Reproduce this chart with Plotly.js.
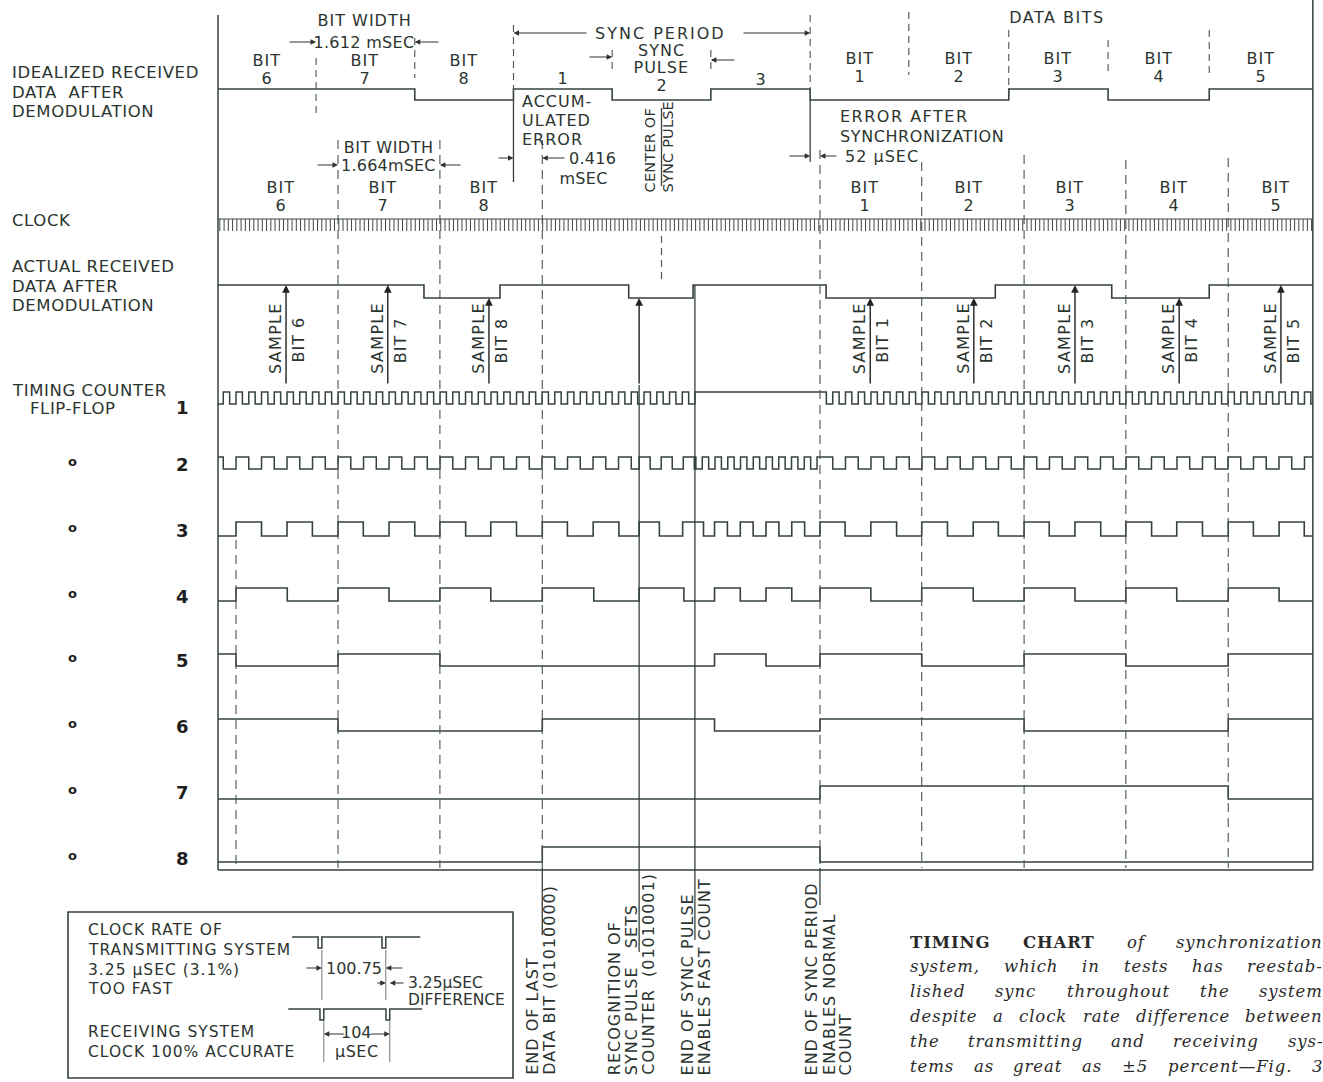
<!DOCTYPE html>
<html><head><meta charset="utf-8">
<script src="https://cdn.plot.ly/plotly-3.0.1.min.js"></script>
<style>html,body{margin:0;padding:0;background:#fff;}#chart{width:1323px;height:1082px;}</style>
</head><body><div id="chart"></div>
<script>
// ================= DATA (time in ms from the left edge of the chart) =================
const chartEnd = 17.86;
// transmitter (idealized) bit boundaries, 1.612 ms apart
const txBitBoundaries = [1.60, 3.21, 4.82, 6.43, 8.04, 9.66, 11.27, 12.90, 14.52, 16.17];
const txBitLabels = [['BIT','6'],['BIT','7'],['BIT','8'],['1'],['SYNC','PULSE','2'],['3'],
                     ['BIT','1'],['BIT','2'],['BIT','3'],['BIT','4'],['BIT','5']];
// receiver bit boundaries, 1.664 ms apart
const rxBitBoundaries = [0.294, 1.958, 3.62, 5.29, 9.82, 11.48, 13.15, 14.81, 16.48];
// idealized received data: initial level + toggle times
const idealInit = 1;
const idealToggles = [3.21, 4.82, 6.43, 8.04, 9.66, 12.90, 14.52, 16.17];
// actual received data
const actualInit = 1;
const actualToggles = [3.36, 4.60, 6.70, 7.75, 9.92, 12.68, 14.58, 16.17];
// sampling instants
const sampleTimes = [1.11, 2.77, 4.42, 6.87, 10.64, 12.33, 13.98, 15.68, 17.34];
const sampleLabels = ['BIT 6','BIT 7','BIT 8','','BIT 1','BIT 2','BIT 3','BIT 4','BIT 5'];
// events
const endLastDataBit = 5.29, syncRecognition = 6.87, syncPulseEnd = 7.78, syncPeriodEnd = 9.82;
// clock comb
const clockPhase = 0.03, clockPeriod = 0.0693;
// timing counter flip-flops: periodic segments {from,to,phase,period} or constant {from,to,level}
const ff1Segments = [
  {from:0, to:7.78, phase:0.294, period:0.208},
  {from:7.78, to:9.82, level:1},
  {from:9.82, to:chartEnd, phase:9.82, period:0.208}
];
const ff2Segments = [
  {from:0, to:6.87, phase:0.294, period:0.416},
  {from:6.87, to:7.78, phase:6.87, period:0.36},
  {from:7.78, to:9.82, phase:7.90, period:0.208},
  {from:9.82, to:chartEnd, phase:9.82, period:0.416}
];
const ff3Init = 0;
const ff3Toggles = [0.294,0.71,1.126,1.54,1.958,2.37,2.79,3.21,3.62,4.04,4.45,4.87,5.29,5.70,6.12,6.54,
  6.87,7.20,7.58,7.92,8.10,8.31,8.52,8.73,8.94,9.15,9.36,9.57,9.82,10.23,10.65,11.07,11.48,11.90,
  12.32,12.73,13.15,13.56,13.98,14.40,14.81,15.23,15.64,16.06,16.48,16.89,17.31,17.72];
const ff4Init = 0;
const ff4Toggles = [0.294,1.13,1.958,2.79,3.62,4.45,5.29,6.13,6.87,7.60,8.10,8.52,8.94,9.36,9.82,
  10.65,11.48,12.32,13.15,13.98,14.81,15.64,16.48,17.31];
const ff5Init = 1, ff5Toggles = [0.294,1.958,3.62,8.10,8.94,9.82,11.48,13.15,14.81,16.48];
const ff6Init = 1, ff6Toggles = [1.958,5.29,8.10,9.82,13.15,16.48];
const ff7Init = 0, ff7Toggles = [9.82,16.48];
const ff8Init = 0, ff8Toggles = [5.29,9.82];
// inset clocks (microseconds)
const txClockDips = [-3, 97.75];   // 100.75 us apart
const rxClockDips = [0, 104];      // 104 us apart
const clockDipWidth = 6;
// caption
const captionLines = [
  [['TIMING',1],['CHART',1],['of',0],['synchronization',0]],
  [['system,',0],['which',0],['in',0],['tests',0],['has',0],['reestab-',0]],
  [['lished',0],['sync',0],['throughout',0],['the',0],['system',0]],
  [['despite',0],['a',0],['clock',0],['rate',0],['difference',0],['between',0]],
  [['the',0],['transmitting',0],['and',0],['receiving',0],['sys-',0]],
  [['tems',0],['as',0],['great',0],['as',0],['\u00b15',0],['percent\u2014Fig.',0],['3',0]]
];

// ================= LAYOUT HELPERS =================
const W = 1323, H = 1082;
const PX0 = 218, PXPERMS = 61.3;
const X = px => (px - PX0) / PXPERMS;           // page pixel -> time axis
const INK = '#2c3430', LINE = '#34413c', DASH = '#4a524e';
const F = "'DejaVu Sans', 'Liberation Sans', sans-serif";
const rows = {
  ideal:{hi:89,lo:100}, actual:{hi:285,lo:298},
  ff1:{hi:392,lo:404}, ff2:{hi:457,lo:469}, ff3:{hi:522,lo:536}, ff4:{hi:588,lo:601},
  ff5:{hi:654,lo:666}, ff6:{hi:719,lo:731}, ff7:{hi:786,lo:799}, ff8:{hi:847,lo:862}
};
const lev = (v,row) => v ? row.hi : row.lo;
function levelAt(init, toggles, t){ let v=init; for(const x of toggles){ if(x<=t) v=1-v; } return v; }

const traces = [];
function stepTrace(init, toggles, row){
  const xs=[0], ys=[lev(init,row)]; let v=init;
  for(const t of toggles){ v=1-v; xs.push(t); ys.push(lev(v,row)); }
  xs.push(chartEnd); ys.push(lev(v,row));
  return {type:'scatter',mode:'lines',x:xs,y:ys,line:{shape:'hv',color:LINE,width:1.6},hoverinfo:'skip'};
}
function segTrace(segs,row){
  const xs=[], ys=[];
  for(const s of segs){
    if('level' in s){ xs.push(s.from); ys.push(lev(s.level,row)); continue; }
    const half=s.period/2;
    const lv = t => { const m=(((t-s.phase)%s.period)+s.period)%s.period; return m < half ? 1 : 0; };
    xs.push(s.from); ys.push(lev(lv(s.from+1e-6),row));
    let k=Math.ceil((s.from-s.phase)/half+1e-9);
    for(;;k++){ const e=s.phase+k*half; if(e>=s.to-1e-9) break; xs.push(e); ys.push(lev(lv(e+1e-6),row)); }
  }
  xs.push(chartEnd); ys.push(ys[ys.length-1]);
  return {type:'scatter',mode:'lines',x:xs,y:ys,line:{shape:'hv',color:LINE,width:1.5},hoverinfo:'skip'};
}
function lineTrace(segs, color, width, dash){
  const xs=[], ys=[];
  for(const [t,y0,y1] of segs){ xs.push(t,t,null); ys.push(y0,y1,null); }
  return {type:'scatter',mode:'lines',x:xs,y:ys,line:{color,width,dash:dash||'solid'},hoverinfo:'skip'};
}

// ---- waveforms
traces.push(stepTrace(idealInit, idealToggles, rows.ideal));
traces.push(stepTrace(actualInit, actualToggles, rows.actual));
traces.push(segTrace(ff1Segments, rows.ff1));
traces.push(segTrace(ff2Segments, rows.ff2));
traces.push(stepTrace(ff3Init, ff3Toggles, rows.ff3));
traces.push(stepTrace(ff4Init, ff4Toggles, rows.ff4));
traces.push(stepTrace(ff5Init, ff5Toggles, rows.ff5));
traces.push(stepTrace(ff6Init, ff6Toggles, rows.ff6));
traces.push(stepTrace(ff7Init, ff7Toggles, rows.ff7));
traces.push(stepTrace(ff8Init, ff8Toggles, rows.ff8));

// ---- clock comb
(function(){
  const xs=[0,chartEnd,null], ys=[219,219,null];
  for(let t=clockPhase; t<chartEnd; t+=clockPeriod){ xs.push(t,t,null); ys.push(219,231,null); }
  traces.push({type:'scatter',mode:'lines',x:xs,y:ys,line:{color:'#3f4743',width:1},hoverinfo:'skip'});
})();

// ---- frame
traces.push({type:'scatter',mode:'lines',x:[0,0,null,chartEnd,chartEnd,null,0,chartEnd],
  y:[15,870,null,0,870,null,870,870],line:{color:LINE,width:1.5},hoverinfo:'skip'});

// ---- dashed receiver-bit markers
const rxTops = [540,140,140,140,150,162,155,160,158];
traces.push(lineTrace(rxBitBoundaries.map((t,i)=>[t,rxTops[i],868]), DASH, 1.1, '9px,6px'));
// ---- dashed transmitter-bit markers (top)
const txMarkExt = [[58,118],[38,78],[25,100],[50,72],[50,72],[15,100],[12,75],[30,95],[40,75],[30,75]];
traces.push(lineTrace(txBitBoundaries.map((t,i)=>[t,txMarkExt[i][0],txMarkExt[i][1]]), DASH, 1.1, '7px,5px'));
// centre of transmitted sync pulse
const txSyncCenter = (txBitBoundaries[3]+txBitBoundaries[4])/2;
traces.push(lineTrace([[txSyncCenter,236,283]], DASH, 1.1, '7px,5px'));
// ---- solid markers
traces.push(lineTrace([
  [txBitBoundaries[2],100,182],[txBitBoundaries[5],100,162],[txSyncCenter,108,186],
  [syncRecognition,385,952],[syncPulseEnd,rows.actual.hi,940],
  [endLastDataBit,868,935],[syncPeriodEnd,868,905]
], LINE, 1.3));

// ---- inset (x2 axis in microseconds)
const insetTx = {hi:937, lo:948, from:-44, to:158};
const insetRx = {hi:1009, lo:1020, from:-50, to:161};
function insetTrace(dips, r){
  const xs=[r.from], ys=[r.hi];
  for(const d of dips){ xs.push(d,d,d+clockDipWidth,d+clockDipWidth); ys.push(r.hi,r.lo,r.lo,r.hi); }
  xs.push(r.to); ys.push(r.hi);
  return {type:'scatter',mode:'lines',x:xs,y:ys,xaxis:'x2',yaxis:'y',line:{color:LINE,width:1.5},hoverinfo:'skip'};
}
traces.push(insetTrace(txClockDips, insetTx));
traces.push(insetTrace(rxClockDips, insetRx));
const txExt = txClockDips.map(d=>d+clockDipWidth), rxExt = rxClockDips.map(d=>d+clockDipWidth);
traces.push({type:'scatter',mode:'lines',xaxis:'x2',yaxis:'y',
  x:[txExt[0],txExt[0],null,txExt[1],txExt[1],null,rxExt[0],rxExt[0],null,rxExt[1],rxExt[1]],
  y:[950,1000,null,950,1000,null,1021,1062,null,1021,1062],line:{color:'#666',width:0.9},hoverinfo:'skip'});

// ================= ANNOTATIONS =================
const anns = [], lsArr = [];
function addAnn(a, ls){ anns.push(a); lsArr.push(ls||0); }
function txt(x, y, text, o={}){
  const xa = o.xa||'center';
  addAnn({xref:o.xref||'x', yref:'y', x, y, text, showarrow:false,
    font:{family:o.family||F, size:o.size||16, color:o.color||INK},
    xanchor:xa, yanchor:o.ya||'middle', align:o.align||(xa==='left'?'left':'center'),
    textangle:o.angle||0, xshift:o.xs||0, yshift:o.ys||0}, o.ls===undefined?1:o.ls);
}
function arr(tail, head, y, xref){
  addAnn({xref:xref||'x', yref:'y', axref:xref||'x', ayref:'y', x:head, y, ax:tail, ay:y, text:'',
    showarrow:true, arrowhead:2, arrowsize:1, arrowwidth:1.1, arrowcolor:INK, standoff:0, startstandoff:0}, 0);
}
// left labels
[['IDEALIZED RECEIVED',72],['DATA  AFTER',92],['DEMODULATION',111],['CLOCK',220],
 ['ACTUAL RECEIVED',266],['DATA AFTER',286],['DEMODULATION',305],['TIMING COUNTER',390]]
 .forEach(([s,y])=>txt(X(10),y,s,{xa:'left',size:16.5,ls:0.6}));
txt(X(28),408,'FLIP-FLOP',{xa:'left',size:16.5,ls:0.6});
[['1',407],['2',464],['3',530],['4',596],['5',660],['6',726],['7',792],['8',858]].forEach(([s,y])=>{
  addAnn({xref:'x',yref:'y',x:X(182),y,text:'<b>'+s+'</b>',showarrow:false,font:{family:F,size:18,color:'#1e1e1e'}},0);
});
[461,527,593,657,723,789,855].forEach(y=>{
  addAnn({xref:'x',yref:'y',x:X(72),y,text:'<b>o</b>',showarrow:false,font:{family:F,size:13,color:'#1e1e1e'}},0);
});

// top: transmitter bit labels at interval midpoints
const txEdges = [0, ...txBitBoundaries, chartEnd];
const txLabelFirstY = [60,60,60,78,50,79,58,58,58,58,58];
const txLabelStep = [18,18,18,0,17.5,0,18,18,18,18,18];
txBitLabels.forEach((lines,i)=>lines.forEach((s,j)=>
  txt((txEdges[i]+txEdges[i+1])/2, txLabelFirstY[i]+j*(txLabelStep[i]||18), s)));
txt(X(364),20,'BIT WIDTH'); txt(X(364),42,'1.612 mSEC',{ls:0.3});
arr(X(288),txBitBoundaries[0],42); arr(X(440),txBitBoundaries[1],42);
txt(X(660),33,'SYNC PERIOD',{ls:2});
arr(X(588),txBitBoundaries[2],33); arr(X(742),txBitBoundaries[5],33);
arr(X(588),txBitBoundaries[3],57); arr(X(736),txBitBoundaries[4],60);
txt(X(1057),17,'DATA BITS',{ls:1.5});
txt(X(520),101,'ACCUM-',{xa:'left'}); txt(X(520),120,'ULATED',{xa:'left'}); txt(X(520),139,'ERROR',{xa:'left'});
arr(X(497),txBitBoundaries[2],158); arr(X(566),endLastDataBit,158);
txt(X(567),158,'0.416',{xa:'left',ls:0.3}); txt(X(583),178,'mSEC',{ls:0.3});
txt(txSyncCenter,150,'CENTER OF',{angle:-90,xs:-12,size:14.5,ls:0.2});
txt(txSyncCenter,147,'SYNC PULSE',{angle:-90,xs:6,size:14.5,ls:0.2});
txt(X(838),116,'ERROR AFTER',{xa:'left',ls:1.5}); txt(X(838),136,'SYNCHRONIZATION',{xa:'left',ls:0.6});
arr(X(788),txBitBoundaries[5],156); arr(X(838),syncPeriodEnd,156);
txt(X(843),156,'52 \u00b5SEC',{xa:'left'});
txt(X(388),147,'BIT WIDTH',{ls:0.5}); txt(X(388),165,'1.664mSEC',{ls:0.2});
arr(X(316),rxBitBoundaries[1],165); arr(X(462),rxBitBoundaries[2],165);
// receiver bit labels at sampling instants
sampleTimes.forEach((t,i)=>{ if(sampleLabels[i]){ const [a,b]=sampleLabels[i].split(' ');
  txt(t,187,a,{xs:-5}); txt(t,205,b,{xs:-5}); }});

// sample arrows and labels
sampleTimes.forEach((t,i)=>{
  const head = lev(levelAt(actualInit, actualToggles, t), rows.actual);
  addAnn({xref:'x',yref:'y',axref:'x',ayref:'y',x:t,y:head,ax:t,ay:385,text:'',showarrow:true,
    arrowhead:2,arrowsize:1.1,arrowwidth:1.4,arrowcolor:'#222',standoff:0},0);
  if(sampleLabels[i]){
    txt(t,338,'SAMPLE',{angle:-90,xs:-11,size:16,ls:1.3});
    txt(t,340,sampleLabels[i],{angle:-90,xs:12,size:16,ls:1});
  }
});

// bottom event labels
const evLabels = [
  [endLastDataBit, [['END OF LAST',-10],['DATA BIT (01010000)',7]]],
  [syncRecognition, [['RECOGNITION OF',-25],['SYNC PULSE   SETS',-8],['COUNTER  (01010001)',9]]],
  [syncPulseEnd, [['END OF SYNC PULSE',-7],['ENABLES FAST COUNT',10]]],
  [syncPeriodEnd, [['END OF SYNC PERIOD',-8],['ENABLES NORMAL',9],['COUNT',26]]]
];
evLabels.forEach(([t,lines])=>lines.forEach(([s,dx])=>txt(t,1077,s,{angle:-90,xs:dx,ya:'bottom',align:'left'})));

// inset texts
[['CLOCK RATE OF',930],['TRANSMITTING SYSTEM',950],['3.25 \u00b5SEC (3.1%)',970],['TOO FAST',989],
 ['RECEIVING SYSTEM',1032],['CLOCK 100% ACCURATE',1052]].forEach(([s,y])=>txt(X(86),y,s,{xa:'left',size:15.5}));
txt((txExt[0]+txExt[1])/2,968,'100.75',{xref:'x2',ls:0});
arr(-24,txExt[0],968,'x2'); arr(132,txExt[1],968,'x2');
arr(88,txExt[1],983,'x2'); arr(134,rxExt[1],983,'x2');
txt(136,983,'3.25\u00b5SEC',{xref:'x2',xa:'left',ls:0,size:15.5}); txt(135,1000,'DIFFERENCE',{xref:'x2',xa:'left',ls:0,size:15.5});
txt((rxExt[0]+rxExt[1])/2,1032,'104',{xref:'x2',ls:0}); txt((rxExt[0]+rxExt[1])/2,1051,'\u00b5SEC',{xref:'x2',ls:0.5});
arr(40,rxExt[0],1034,'x2'); arr(78,rxExt[1],1034,'x2');

// caption (justified by measuring words)
const CAP_LS = 0.9;
(function(){
  const cv=document.createElement('canvas').getContext('2d');
  const size=16.5, fam="'DejaVu Serif', 'Liberation Serif', serif";
  const left=908, right=1321, y0=942, dy=24.8;
  captionLines.forEach((words,li)=>{
    const widths = words.map(([w,b])=>{ cv.font=(b?'bold ':'italic ')+size+'px '+fam;
      return cv.measureText(w).width + CAP_LS*w.length; });
    const total = widths.reduce((a,b)=>a+b,0);
    const gap = (right-left-total)/(words.length-1);
    let x=left;
    words.forEach(([w,b],i)=>{
      addAnn({xref:'x',yref:'y',x:X(x),y:y0+li*dy,text:b?'<b>'+w+'</b>':'<i>'+w+'</i>',showarrow:false,
        xanchor:'left',yanchor:'middle',align:'left',font:{family:fam,size,color:'#2a2a2a'}}, CAP_LS);
      x+=widths[i]+gap;
    });
  });
})();

const layout = {
  width:W, height:H, margin:{l:0,r:0,t:0,b:0,pad:0}, autosize:false,
  paper_bgcolor:'#ffffff', plot_bgcolor:'rgba(0,0,0,0)', showlegend:false,
  xaxis:{range:[X(0),X(W)], visible:false, fixedrange:true},
  xaxis2:{domain:[287/W,424/W], range:[-52,164], visible:false, anchor:'y'},
  yaxis:{range:[H,0], visible:false, fixedrange:true},
  shapes:[{type:'rect',xref:'x',yref:'y',x0:X(68),x1:X(513),y0:912,y1:1078,line:{color:LINE,width:1.6}}],
  annotations:anns
};
Plotly.newPlot('chart', traces, layout, {staticPlot:true, displayModeBar:false}).then(gd=>{
  gd.querySelectorAll('g.annotation').forEach(g=>{
    const i=+g.getAttribute('data-index'); const ls=lsArr[i];
    if(ls) g.querySelectorAll('text').forEach(t=>{ t.style.letterSpacing=ls+'px'; });
  });
});
</script></body></html>
